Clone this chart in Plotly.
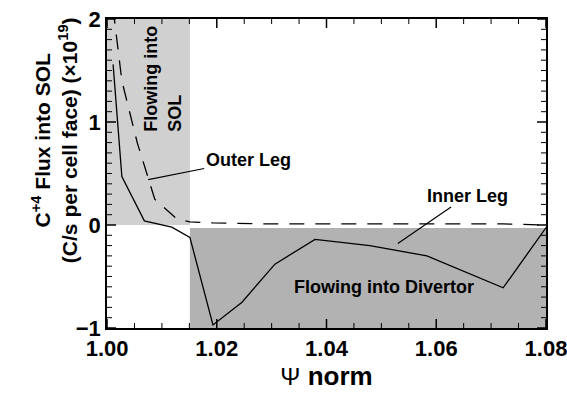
import numpy as np
import plotly.graph_objects as go

# Data
inner_x = [1.0011, 1.0027, 1.0068, 1.0118, 1.0151, 1.0193, 1.0246, 1.0306,
           1.0379, 1.0479, 1.0583, 1.0722, 1.0801]
inner_y = [1.56, 0.47, 0.04, -0.02, -0.12, -0.97, -0.75, -0.38,
           -0.14, -0.20, -0.30, -0.61, -0.02]
outer_x = [1.0011, 1.0027, 1.0055, 1.0087, 1.0127, 1.0151, 1.0193, 1.0306,
           1.0479, 1.0722, 1.0801]
outer_y = [2.1, 1.40, 0.80, 0.25, 0.06, 0.03, 0.02, 0.01, 0.01, 0.01, 0.0]

sol_region_x = [1.0, 1.0151]
sol_region_y = [0.0, 2.0]
div_region_x = [1.0151, 1.08]
div_region_y = [-1.0, -0.03]

X_RANGE = [0.99999, 1.08001]
Y_RANGE = [-1.0001, 2.0001]
x_major = np.round(np.arange(1.0, 1.0801, 0.02), 3)
x_minor = np.round(np.arange(1.0, 1.0801, 0.005), 4)
y_major = np.arange(-1, 3, 1)
y_minor = np.round(np.arange(-1.0, 2.001, 0.1), 2)

FONT = "Liberation Sans, Arial, sans-serif"

fig = go.Figure()

fig.add_shape(type="rect", xref="x", yref="y",
              x0=sol_region_x[0], x1=sol_region_x[1],
              y0=sol_region_y[0], y1=sol_region_y[1],
              fillcolor="#d0d0d0", line=dict(width=0), layer="below")
fig.add_shape(type="rect", xref="x", yref="y",
              x0=div_region_x[0], x1=div_region_x[1],
              y0=div_region_y[0], y1=div_region_y[1],
              fillcolor="#b2b2b2", line=dict(width=0), layer="below")

fig.add_trace(go.Scatter(x=inner_x, y=inner_y, mode="lines",
                         line=dict(color="black", width=1.3),
                         showlegend=False))
fig.add_trace(go.Scatter(x=outer_x, y=outer_y, mode="lines",
                         line=dict(color="black", width=1.3, dash="15px,11px"),
                         showlegend=False))

# inward tick marks on all four sides (pixel-length, placed at axis values)
def xtick(v, length, width):
    for anchor, sign in ((0, 1), (1, -1)):
        fig.add_shape(type="line", xref="x", yref="paper", ysizemode="pixel",
                      yanchor=anchor, x0=v, x1=v, y0=0, y1=sign * length,
                      line=dict(color="black", width=width), layer="above")

def ytick(v, length, width):
    for anchor, sign in ((0, 1), (1, -1)):
        fig.add_shape(type="line", xref="paper", yref="y", xsizemode="pixel",
                      xanchor=anchor, y0=v, y1=v, x0=0, x1=sign * length,
                      line=dict(color="black", width=width), layer="above")

for v in x_minor:
    if not np.any(np.isclose(v, x_major)):
        xtick(float(v), 5, 1)
for v in x_major:
    xtick(float(v), 9, 1.5)
for v in y_minor:
    if not np.any(np.isclose(v, y_major)):
        ytick(float(v), 5, 1)
for v in y_major:
    ytick(float(v), 9, 1.5)

bold = dict(family=FONT, size=18, color="black", weight="bold")

fig.add_annotation(x=1.0102, y=1.42, xref="x", yref="y",
                   text="Flowing into<br>SOL", textangle=-90,
                   showarrow=False, align="left", font=bold)
fig.add_annotation(x=1.0075, y=0.44, xref="x", yref="y",
                   text="Outer Leg", showarrow=True, arrowhead=0,
                   arrowwidth=1.2, arrowcolor="black",
                   ax=100, ay=-20, font=bold)
fig.add_annotation(x=1.053, y=-0.18, xref="x", yref="y",
                   text="Inner Leg", showarrow=True, arrowhead=0,
                   arrowwidth=1.2, arrowcolor="black",
                   ax=70, ay=-48, font=bold)
fig.add_annotation(x=1.0505, y=-0.60, xref="x", yref="y",
                   text="Flowing into Divertor", showarrow=False,
                   font=bold)

fig.add_annotation(x=0, y=0.608, xref="paper", yref="paper",
                   xanchor="center", yanchor="middle", xshift=-53,
                   text="C<sup>+4</sup> Flux into SOL<br>(C/s per cell face) (×10<sup>19</sup>)",
                   textangle=-90, showarrow=False,
                   font=dict(family=FONT, size=21, color="black", weight="bold"))

common = dict(showgrid=False, zeroline=False, showline=True,
              linecolor="black", linewidth=1.5, mirror=True,
              automargin=False, ticks="", ticklabeloverflow="allow")
labelfont = dict(family=FONT, size=22, color="black", weight="bold")

fig.update_layout(
    width=567, height=398,
    margin=dict(l=107, r=21, t=19, b=70),
    paper_bgcolor="white", plot_bgcolor="white",
    xaxis=dict(range=X_RANGE, tickvals=list(x_major), tickformat=".2f",
               tickfont=labelfont,
               title=dict(text="<span style=\"font-size:24px\">Ψ</span> <b>norm</b>",
                          font=dict(family=FONT, size=26, color="black"),
                          standoff=4),
               **common),
    yaxis=dict(range=Y_RANGE, tickvals=list(y_major), tickfont=labelfont,
               **common),
)

fig.write_html("out.html", post_script="document.body.style.margin='0';",
               config={"displayModeBar": False})
